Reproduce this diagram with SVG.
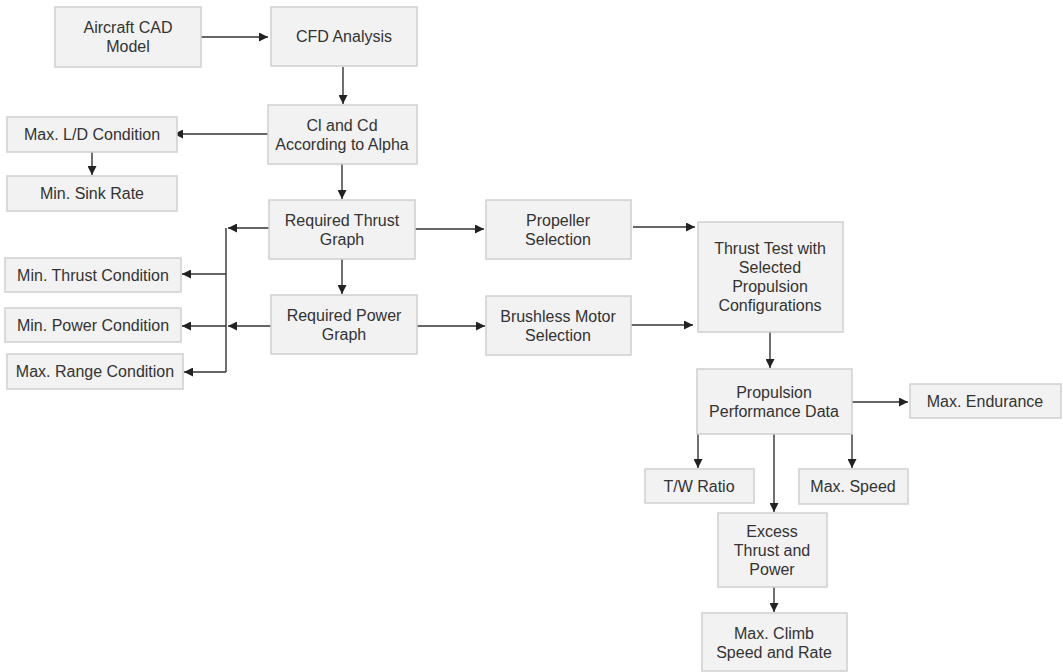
<svg xmlns="http://www.w3.org/2000/svg" width="1063" height="672" viewBox="0 0 1063 672">
<style>
.box{fill:#f2f2f2;stroke:#cfcfcf;stroke-width:1.5}
.t{font-family:"Liberation Sans",Arial,sans-serif;font-size:16px;fill:#333;text-anchor:middle}
.c{fill:none;stroke:#333;stroke-width:1.4}
.a{marker-end:url(#ah)}
</style>
<defs>
<marker id="ah" viewBox="0 0 10 10" refX="10" refY="5" markerWidth="9" markerHeight="9" markerUnits="userSpaceOnUse" orient="auto">
<path d="M0,0 L10,5 L0,10 Z" fill="#222"/>
</marker>
</defs>
<rect width="1063" height="672" fill="#fff"/>
<g id="connectors">
<path class="c a" d="M201,37 H268"/>
<path class="c a" d="M343,67 V104"/>
<path class="c a" d="M268,134 H174"/>
<path class="c a" d="M92,152 V175"/>
<path class="c a" d="M342,164 V199"/>
<path class="c a" d="M269,228 H228"/>
<path class="c" d="M226,228 V372"/>
<path class="c a" d="M226,274 H182"/>
<path class="c a" d="M226,326 H182"/>
<path class="c a" d="M226,372 H184"/>
<path class="c a" d="M271,326 H228"/>
<path class="c a" d="M342,259 V294"/>
<path class="c a" d="M415,229 H484"/>
<path class="c a" d="M417,326 H485"/>
<path class="c a" d="M633,227 H695"/>
<path class="c a" d="M631,325 H693"/>
<path class="c a" d="M770,332 V368"/>
<path class="c a" d="M852,402 H908"/>
<path class="c a" d="M698,434 V468"/>
<path class="c a" d="M852,434 V468"/>
<path class="c a" d="M774,434 V512"/>
<path class="c a" d="M774,587 V612"/>
</g>
<g id="aircraft-cad"><rect class="box" x="55" y="7" width="146" height="60"/><text class="t" x="128" y="33">Aircraft CAD</text><text class="t" x="128" y="52">Model</text></g>
<g id="cfd"><rect class="box" x="271" y="7" width="146" height="59"/><text class="t" x="344" y="42">CFD Analysis</text></g>
<g id="cl-cd"><rect class="box" x="268" y="105" width="149" height="59"/><text class="t" x="342" y="131">Cl and Cd</text><text class="t" x="342" y="150">According to Alpha</text></g>
<g id="max-ld"><rect class="box" x="7" y="117" width="170" height="35"/><text class="t" x="92" y="140">Max. L/D Condition</text></g>
<g id="min-sink"><rect class="box" x="7" y="176" width="170" height="35"/><text class="t" x="92" y="199">Min. Sink Rate</text></g>
<g id="req-thrust"><rect class="box" x="269" y="200" width="146" height="59"/><text class="t" x="342" y="226">Required Thrust</text><text class="t" x="342" y="245">Graph</text></g>
<g id="req-power"><rect class="box" x="271" y="295" width="146" height="59"/><text class="t" x="344" y="321">Required Power</text><text class="t" x="344" y="340">Graph</text></g>
<g id="min-thrust"><rect class="box" x="5" y="258" width="176" height="34"/><text class="t" x="93" y="281">Min. Thrust Condition</text></g>
<g id="min-power"><rect class="box" x="5" y="308" width="176" height="34"/><text class="t" x="93" y="331">Min. Power Condition</text></g>
<g id="max-range"><rect class="box" x="7" y="354" width="176" height="35"/><text class="t" x="95" y="377">Max. Range Condition</text></g>
<g id="propeller"><rect class="box" x="486" y="200" width="145" height="59"/><text class="t" x="558" y="226">Propeller</text><text class="t" x="558" y="245">Selection</text></g>
<g id="brushless"><rect class="box" x="486" y="296" width="145" height="59"/><text class="t" x="558" y="322">Brushless Motor</text><text class="t" x="558" y="341">Selection</text></g>
<g id="thrust-test"><rect class="box" x="698" y="222" width="145" height="110"/><text class="t" x="770" y="254">Thrust Test with</text><text class="t" x="770" y="273">Selected</text><text class="t" x="770" y="292">Propulsion</text><text class="t" x="770" y="311">Configurations</text></g>
<g id="propulsion-data"><rect class="box" x="697" y="369" width="155" height="65"/><text class="t" x="774" y="398">Propulsion</text><text class="t" x="774" y="417">Performance Data</text></g>
<g id="max-endurance"><rect class="box" x="910" y="384" width="151" height="34"/><text class="t" x="985" y="407">Max. Endurance</text></g>
<g id="tw-ratio"><rect class="box" x="645" y="469" width="109" height="34"/><text class="t" x="699" y="492">T/W Ratio</text></g>
<g id="max-speed"><rect class="box" x="799" y="469" width="109" height="35"/><text class="t" x="853" y="492">Max. Speed</text></g>
<g id="excess"><rect class="box" x="718" y="513" width="109" height="74"/><text class="t" x="772" y="537">Excess</text><text class="t" x="772" y="556">Thrust and</text><text class="t" x="772" y="575">Power</text></g>
<g id="max-climb"><rect class="box" x="702" y="613" width="145" height="58"/><text class="t" x="774" y="639">Max. Climb</text><text class="t" x="774" y="658">Speed and Rate</text></g>
</svg>
